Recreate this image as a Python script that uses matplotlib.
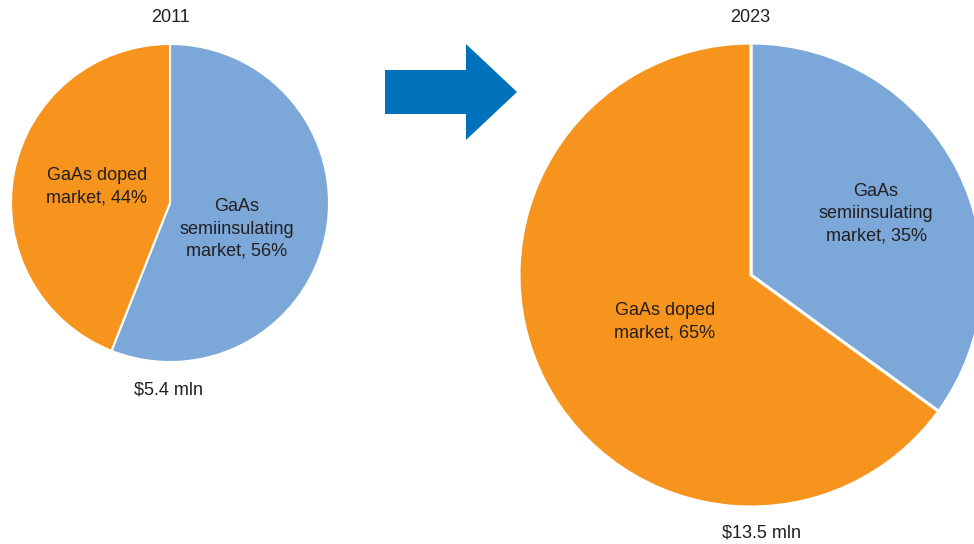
"""Two-pie comparison of the GaAs market split, 2011 vs 2023."""

import matplotlib

matplotlib.use("Agg")
import matplotlib.pyplot as plt
from matplotlib.patches import FancyArrow

plt.rcParams["font.family"] = ["Liberation Sans", "DejaVu Sans"]

years = ["2011", "2023"]
segments = ["GaAs semiinsulating market", "GaAs doped market"]
share_2011 = [56, 44]
share_2023 = [35, 65]
totals = ["$5.4 mln", "$13.5 mln"]

labels_2011 = ["GaAs\nsemiinsulating\nmarket, 56%", "GaAs doped\nmarket, 44%"]
labels_2023 = ["GaAs\nsemiinsulating\nmarket, 35%", "GaAs doped\nmarket, 65%"]

BLUE = "#7ba7d9"
ORANGE = "#f7941d"
ARROW = "#0071bb"
TEXT = "#231f20"

W, H = 974, 544
fig = plt.figure(figsize=(W / 100, H / 100), dpi=100)
ax = fig.add_axes([0, 0, 1, 1])


def py(y):
    # pixel rows from the top -> data y from the bottom
    return H - y


# 2011 pie
ax.pie(share_2011, colors=[BLUE, ORANGE], startangle=90, counterclock=False,
       center=(170, py(203)), radius=159,
       wedgeprops=dict(edgecolor="white", linewidth=1.5))
# 2023 pie, semiinsulating slice pulled out slightly
ax.pie(share_2023, colors=[BLUE, ORANGE], startangle=90, counterclock=False,
       center=(751, py(275)), radius=232, explode=[0.012, 0],
       wedgeprops=dict(edgecolor="white", linewidth=2.2))

text_kw = dict(ha="center", va="center", fontsize=13, color=TEXT, linespacing=1.4)
ax.text(237, py(229), labels_2011[0], **text_kw)
ax.text(97, py(187), labels_2011[1], **text_kw)
ax.text(876, py(214), labels_2023[0], **text_kw)
ax.text(665, py(322), labels_2023[1], **text_kw)

ax.text(170, py(18), years[0], **text_kw)
ax.text(750, py(18), years[1], **text_kw)
ax.text(168, py(390), totals[0], **text_kw)
ax.text(762, py(533), totals[1], **text_kw)

ax.add_patch(FancyArrow(385, py(92), 132, 0, width=44, head_width=96,
                        head_length=51, length_includes_head=True,
                        color=ARROW, linewidth=0))

ax.set_xlim(0, W)
ax.set_ylim(0, H)
ax.set_aspect("equal")
ax.axis("off")

fig.savefig("out.png", dpi=100)
